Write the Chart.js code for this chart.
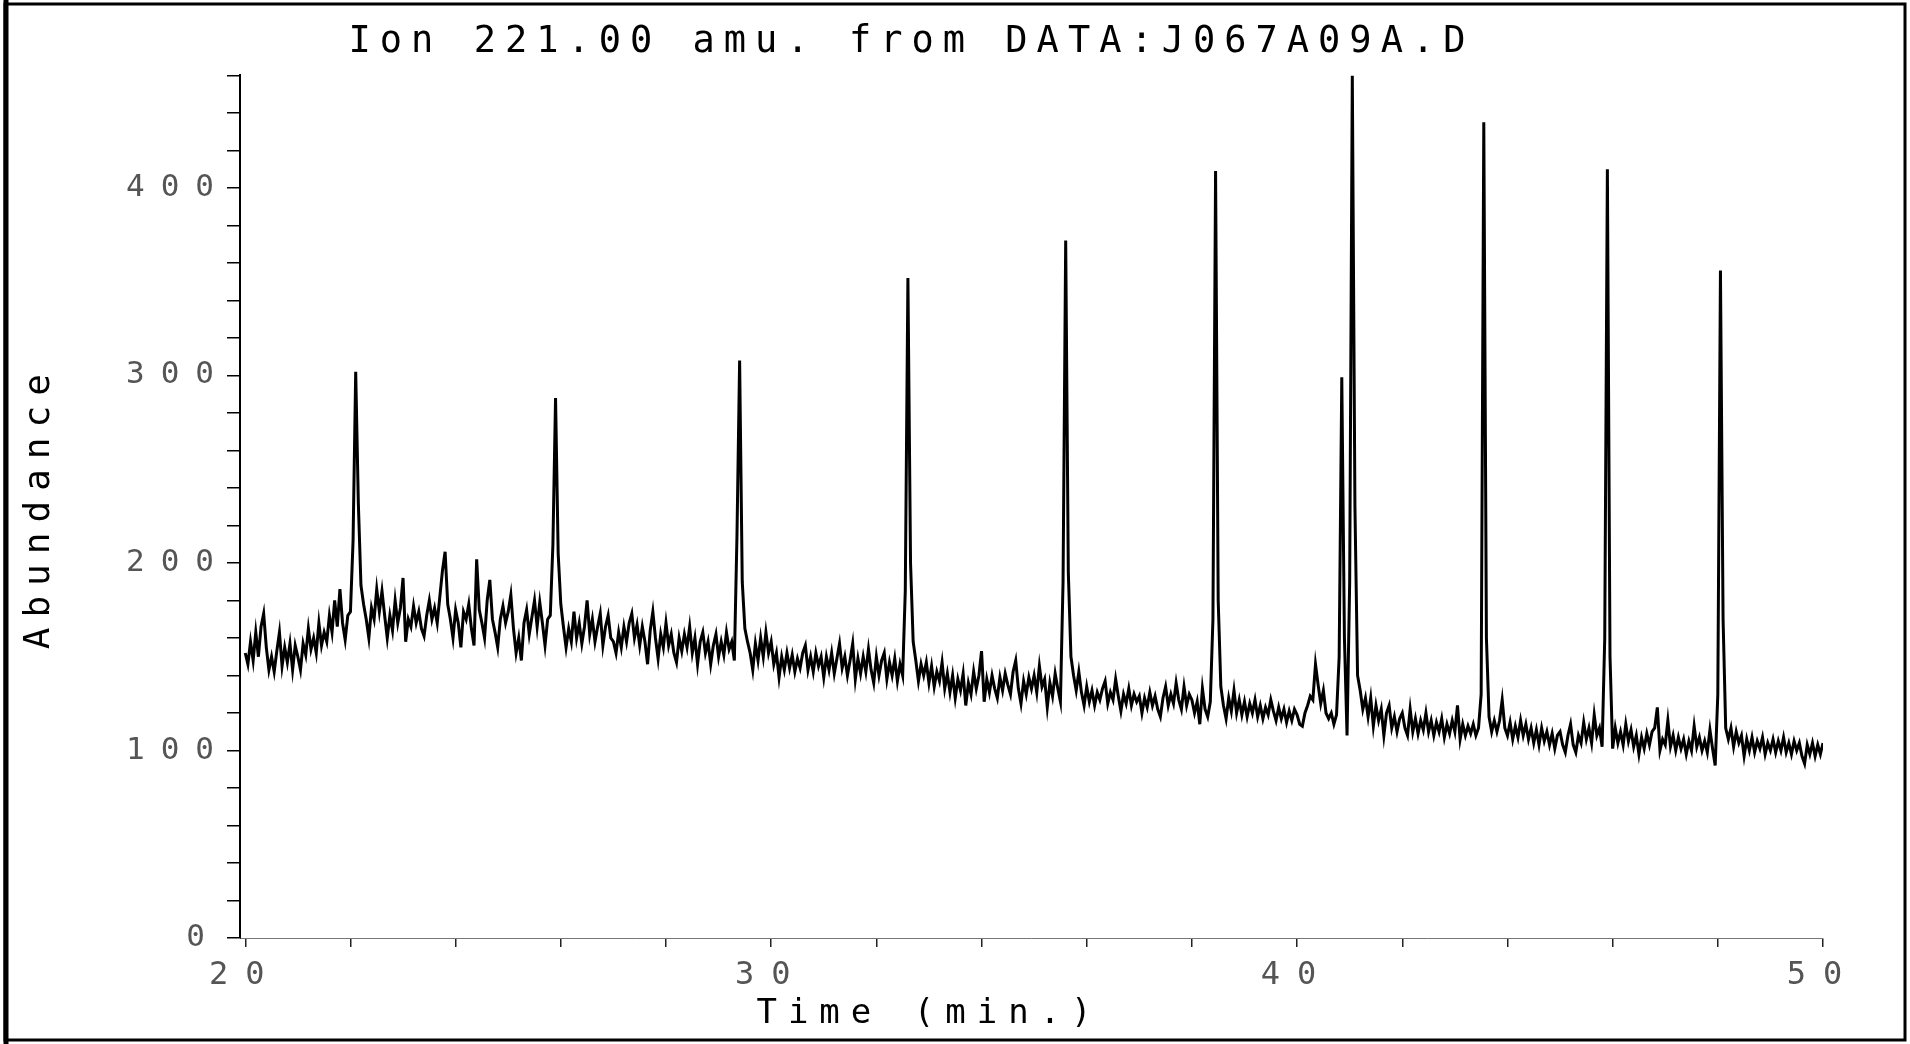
<!DOCTYPE html>
<html>
<head>
<meta charset="utf-8">
<script src="https://cdn.jsdelivr.net/npm/chart.js@4.4.1/dist/chart.umd.min.js"></script>
<style>
html,body{margin:0;padding:0;background:#fff;overflow:hidden}
canvas{display:block}
</style>
</head>
<body>
<canvas id="c" width="1910" height="1044"></canvas>
<script>
const chartTitle = 'Ion 221.00 amu. from DATA:J067A09A.D';
const xAxisTitle = 'Time (min.)';
const yAxisTitle = 'Abundance';

// scan times: start + index * step (minutes)
const scanStart = 20.0;
const scanStep = 0.05;

// abundance, one row per minute (20.00 ... 20.95, 21.00 ...)
const abundance = [
  152,146,158,148,163,150,166,173,155,143,150,142,153,163,145,155,147,157,143,156,
  150,143,157,151,165,154,160,152,168,156,163,158,172,163,180,166,186,168,159,172,
  174,212,302,232,188,178,170,160,176,170,186,174,185,172,160,172,164,180,168,176,
  192,158,170,166,177,168,174,165,161,172,180,170,176,168,182,196,206,178,170,160,
  175,168,155,174,170,178,165,156,202,175,168,160,180,191,170,163,155,170,177,168,
  174,183,165,152,160,148,168,175,162,171,180,166,179,168,156,170,172,210,288,205,
  178,166,155,165,158,174,160,168,157,166,180,162,170,158,166,173,156,166,172,160,
  158,152,163,155,166,158,168,173,160,167,156,166,158,146,164,174,160,149,162,155,
  168,156,162,152,147,160,153,162,155,166,152,160,146,158,163,152,158,146,156,162,
  150,158,151,163,154,158,148,215,308,190,165,158,152,143,157,148,160,150,163,152,
  158,146,152,139,150,143,152,144,151,142,149,144,152,156,143,150,142,152,145,150,
  139,150,143,152,141,149,157,144,150,140,148,157,138,149,141,150,142,154,143,136,
  150,140,148,152,138,147,140,149,137,146,140,185,352,200,158,148,137,146,140,147,
  136,145,134,142,137,147,133,141,131,140,128,138,132,141,124,136,130,142,133,140,
  153,126,138,131,140,133,128,139,132,141,135,130,142,148,133,125,137,130,139,133,
  140,131,145,134,138,123,136,129,141,133,126,190,372,195,150,140,132,142,131,124,
  134,126,132,124,131,127,133,137,125,131,127,138,129,121,130,125,133,124,130,126,
  129,120,128,123,131,124,129,122,118,128,134,124,130,125,136,127,122,134,124,130,
  127,120,126,114,133,122,118,126,170,409,180,134,124,117,128,121,132,120,127,119,
  126,118,125,120,127,118,124,117,123,119,127,121,116,123,117,122,115,121,116,122,
  119,114,113,120,124,129,127,146,135,125,132,120,117,120,114,119,150,299,160,108,
  190,460,230,140,132,122,128,118,128,113,124,116,122,108,120,124,112,118,110,117,
  120,112,108,122,110,117,109,116,111,120,110,116,108,115,110,117,107,114,109,116,
  110,124,106,114,108,113,109,114,108,112,130,435,160,118,110,116,110,116,127,112,
  108,115,106,113,107,116,108,114,106,112,104,111,103,112,105,110,103,109,101,108,
  110,103,99,108,114,103,99,108,104,115,106,112,104,119,108,112,102,160,410,150,
  101,112,104,110,103,114,105,111,102,108,98,107,101,109,103,110,112,123,100,106,
  103,116,102,108,100,107,101,106,98,105,100,113,102,107,100,105,99,111,101,92,
  130,356,170,112,106,112,102,110,104,108,97,106,100,107,99,105,101,107,98,104,
  100,106,99,105,100,107,99,104,98,105,100,104,97,93,103,98,104,97,103,98,
  104
];

const xTickValues = [20,22,24,26,28,30,32,34,36,38,40,42,44,46,48,50];
const xTickLabels = [20,30,40,50];
const yTickValues = [0,20,40,60,80,100,120,140,160,180,200,220,240,260,280,300,320,340,360,380,400,420,440,460];
const yTickLabels = [0,100,200,300,400];

const points = abundance.map((v, i) => ({ x: Math.round((scanStart + i * scanStep) * 100) / 100, y: v }));

function spaced(scale, method, spacing, dx) {
  const base = Object.getPrototypeOf(scale)[method];
  scale[method] = function () {
    const ctx = this.ctx;
    ctx.save();
    ctx.letterSpacing = spacing;
    if (dx) ctx.translate(dx, 0);
    base.apply(this, arguments);
    ctx.restore();
  };
}

// y labels: letter-spaced multi-digit labels, single digit drawn unspaced and nudged
function spacedYLabels(scale) {
  const base = Object.getPrototypeOf(scale).drawLabels;
  scale.drawLabels = function (area) {
    const ctx = this.ctx;
    const items = this.getLabelItems(area);
    const multi = items.filter(it => String(it.label).length > 1);
    const single = items.filter(it => String(it.label).length <= 1);
    ctx.save();
    ctx.letterSpacing = '16px';
    this._labelItems = multi;
    base.call(this, area);
    ctx.restore();
    ctx.save();
    ctx.letterSpacing = '0px';
    ctx.translate(-25, 0);
    this._labelItems = single;
    base.call(this, area);
    ctx.restore();
    this._labelItems = items;
  };
}

const pagePlugin = {
  id: 'page',
  beforeDraw(chart) { chart.ctx.letterSpacing = '9px'; },
  afterDraw(chart) {
    const ctx = chart.ctx;
    ctx.letterSpacing = '0px';
    ctx.save();
    ctx.strokeStyle = '#000';
    ctx.lineWidth = 3;
    ctx.strokeRect(5, 4, 1900, 1036);
    ctx.lineWidth = 5;
    ctx.beginPath(); ctx.moveTo(6, 0); ctx.lineTo(6, 1044); ctx.stroke();
    ctx.restore();
  }
};

const monoFont = 'DejaVu Sans Mono';

new Chart(document.getElementById('c').getContext('2d'), {
  type: 'line',
  data: {
    datasets: [{
      data: points,
      borderColor: '#000',
      borderWidth: 3,
      borderJoinStyle: 'miter',
      pointRadius: 0,
      tension: 0,
      fill: false
    }]
  },
  options: {
    responsive: false,
    animation: false,
    devicePixelRatio: 1,
    events: [],
    layout: { padding: { left: 0, right: 87, top: 0, bottom: 0 } },
    plugins: {
      legend: { display: false },
      tooltip: { enabled: false },
      title: {
        display: true,
        text: chartTitle,
        color: '#000',
        font: { family: monoFont, size: 37, weight: 'normal' },
        padding: { top: 20, bottom: 11 }
      }
    },
    scales: {
      x: {
        type: 'linear',
        min: 19.9,
        max: 50,
        afterBuildTicks: s => { s.ticks = xTickValues.map(v => ({ value: v })); },
        afterFit: s => {
          s.height = 106;
          spaced(s, 'drawLabels', '17px', 0);
          spaced(s, 'drawTitle', '11px', -102);
        },
        ticks: {
          autoSkip: false, maxRotation: 0, minRotation: 0,
          padding: 9,
          color: '#555',
          font: { family: monoFont, size: 32 },
          callback: v => xTickLabels.includes(v) ? String(v) : ''
        },
        grid: { drawOnChartArea: false, drawTicks: true, tickLength: 9, color: '#222', lineWidth: 1.5 },
        border: { display: true, color: '#777', width: 1, dash: [10, 8] },
        title: {
          display: true, text: xAxisTitle, color: '#000',
          font: { family: monoFont, size: 34, weight: 'normal' },
          padding: { top: 0, bottom: 9 }
        }
      },
      y: {
        type: 'linear',
        min: 0,
        max: 460,
        afterBuildTicks: s => { s.ticks = yTickValues.map(v => ({ value: v })); },
        afterFit: s => {
          s.width = 240;
          spacedYLabels(s);
          spaced(s, 'drawTitle', '10px', 0);
        },
        ticks: {
          autoSkip: false,
          padding: -3,
          color: '#555',
          font: { family: monoFont, size: 31 },
          callback: v => yTickLabels.includes(v) ? String(v) : ''
        },
        grid: { drawOnChartArea: false, drawTicks: true, tickLength: 13, color: '#000', lineWidth: 1.5 },
        border: { display: true, color: '#000', width: 2 },
        title: {
          display: true, text: yAxisTitle, color: '#000',
          font: { family: monoFont, size: 36, weight: 'normal' },
          padding: { top: 18, bottom: 0 }
        }
      }
    }
  },
  plugins: [pagePlugin]
});
</script>
</body>
</html>
